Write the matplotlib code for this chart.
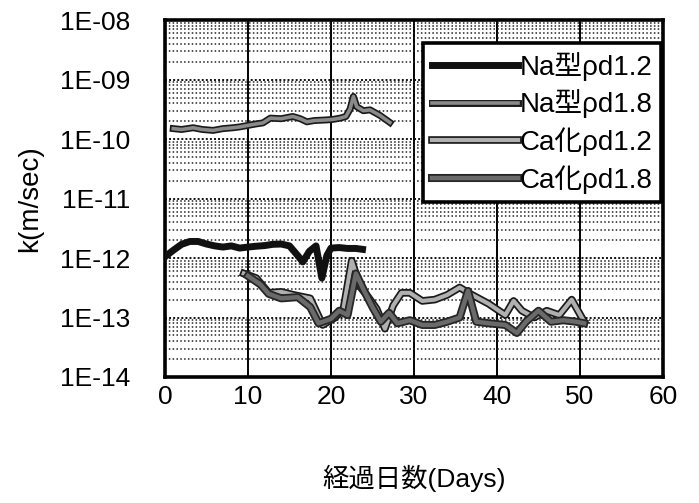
import matplotlib
matplotlib.use("Agg")
import matplotlib.pyplot as plt
import matplotlib.patheffects as pe
from matplotlib.ticker import LogLocator, FixedLocator, FixedFormatter, NullFormatter

plt.rcParams['font.family'] = ['Liberation Sans', 'Noto Sans CJK JP', 'DejaVu Sans']

# Permeability measurements (days, k in m/sec)
na12_days = [0, 1, 2, 3, 4, 5, 6, 7, 8, 9, 10, 11, 12, 13, 14, 15, 16, 16.6,
             17.4, 18.2, 18.9, 19.5, 20, 21, 22, 23, 23.8]
na12_k = [1.05e-12, 1.35e-12, 1.7e-12, 1.9e-12, 1.9e-12, 1.72e-12, 1.6e-12,
          1.53e-12, 1.6e-12, 1.47e-12, 1.53e-12, 1.58e-12, 1.62e-12, 1.7e-12,
          1.72e-12, 1.6e-12, 1.1e-12, 8.6e-13, 1.3e-12, 1.6e-12, 4.6e-13,
          1.1e-12, 1.47e-12, 1.5e-12, 1.45e-12, 1.45e-12, 1.4e-12]

na18_days = [1, 2, 3.4, 4.5, 5.8, 7, 8.2, 9, 10.2, 11, 11.8, 12.7, 14, 15.4,
             16.3, 17.1, 18, 19.5, 20.3, 21.1, 21.8, 22.3, 22.7, 23.1, 23.9,
             24.7, 25.9, 27.1]
na18_k = [1.5e-10, 1.45e-10, 1.55e-10, 1.45e-10, 1.4e-10, 1.5e-10, 1.55e-10,
          1.6e-10, 1.72e-10, 1.8e-10, 1.87e-10, 2.25e-10, 2.2e-10, 2.4e-10,
          2.2e-10, 1.95e-10, 2.05e-10, 2.1e-10, 2.15e-10, 2.25e-10, 2.4e-10,
          3.2e-10, 5.2e-10, 3.5e-10, 3.0e-10, 3.1e-10, 2.5e-10, 1.9e-10]

ca12_days = [9.5, 11, 12.5, 14, 15.5, 17.5, 19, 20.5, 21.5, 22.5, 23.5, 24.5,
             25.5, 26.5, 27.5, 28.5, 29.5, 31, 32.5, 34, 35.5, 37, 39, 41, 42,
             43, 44.5, 46, 47.5, 49, 50.5]
ca12_k = [5.5e-13, 4.6e-13, 2.6e-13, 2.7e-13, 2.4e-13, 2.1e-13, 7.5e-14,
          1.0e-13, 1.4e-13, 9.0e-13, 3.3e-13, 2.2e-13, 1.4e-13, 6.5e-14,
          1.6e-13, 2.6e-13, 2.6e-13, 1.9e-13, 2.0e-13, 2.4e-13, 3.2e-13,
          2.4e-13, 1.7e-13, 1.1e-13, 1.9e-13, 1.3e-13, 1.0e-13, 1.3e-13,
          1.1e-13, 2.0e-13, 8.5e-14]

ca18_days = [10, 11.5, 12.5, 14, 16, 17.5, 18.5, 20, 21, 22, 23, 24, 25, 26,
             27, 28, 29.5, 31, 32.5, 34, 35.5, 36.5, 37.5, 39, 41, 42.4, 43.5,
             45, 46.5, 48, 49.5, 50.5]
ca18_k = [5.0e-13, 3.6e-13, 2.5e-13, 2.1e-13, 2.2e-13, 1.5e-13, 8.0e-14,
          9.5e-14, 1.3e-13, 1.1e-13, 5.5e-13, 2.8e-13, 1.5e-13, 8.5e-14,
          1.2e-13, 8.0e-14, 9.0e-14, 7.5e-14, 7.5e-14, 8.5e-14, 1.0e-13,
          2.8e-13, 8.5e-14, 8.0e-14, 7.5e-14, 5.5e-14, 8.5e-14, 1.3e-13,
          8.5e-14, 9.0e-14, 8.5e-14, 8.0e-14]

labels = ['Na型ρd1.2', 'Na型ρd1.8', 'Ca化ρd1.2', 'Ca化ρd1.8']

x_ticks = [0, 10, 20, 30, 40, 50, 60]
y_ticks = [1e-14, 1e-13, 1e-12, 1e-11, 1e-10, 1e-09, 1e-08]
y_tick_labels = ['1E-14', '1E-13', '1E-12', '1E-11', '1E-10', '1E-09', '1E-08']

fig = plt.figure(figsize=(6.99, 5.03), dpi=100)
ax = fig.add_axes([0.236, 0.2505, 0.7125, 0.7095])
ax.set_yscale('log')
ax.set_xlim(0, 60)
ax.set_ylim(1e-14, 1e-08)

# grid: solid verticals, dotted horizontals at every log step
ax.xaxis.set_major_locator(FixedLocator(x_ticks))
ax.yaxis.set_major_locator(FixedLocator(y_ticks))
ax.yaxis.set_major_formatter(FixedFormatter(y_tick_labels))
ax.yaxis.set_minor_locator(LogLocator(base=10, subs=range(2, 10), numticks=20))
ax.yaxis.set_minor_formatter(NullFormatter())
ax.grid(axis='x', which='major', color='black', linewidth=1.4, linestyle='-')
ax.grid(axis='y', which='major', color='#111111', linewidth=1.4, linestyle=(0, (1, 1.1)))
ax.grid(axis='y', which='minor', color='#222222', linewidth=1.1, linestyle=(0, (1, 1.5)))
ax.set_axisbelow(True)

ax.tick_params(which='both', length=0, labelsize=19, colors='black')
ax.tick_params(axis='y', pad=25)
ax.tick_params(axis='x', pad=6)
for s in ax.spines.values():
    s.set_linewidth(2.6)
    s.set_color('black')

# series
ax.plot(na12_days, na12_k, color='#111111', linewidth=5.0,
        solid_joinstyle='round', label=labels[0], zorder=4)
ax.plot(na18_days, na18_k, color='#8a8a8a', linewidth=2.6,
        path_effects=[pe.Stroke(linewidth=5.0, foreground='#1a1a1a'), pe.Normal()],
        label=labels[1], zorder=4)
ax.plot(ca12_days, ca12_k, color='#b0b0b0', linewidth=3.0,
        path_effects=[pe.Stroke(linewidth=5.5, foreground='#1a1a1a'), pe.Normal()],
        label=labels[2], zorder=3)
ax.plot(ca18_days, ca18_k, color='#6a6a6a', linewidth=3.2,
        path_effects=[pe.Stroke(linewidth=5.8, foreground='#262626'), pe.Normal()],
        label=labels[3], zorder=3)

leg = ax.legend(loc='upper right', bbox_to_anchor=(0.995, 0.935), fontsize=20,
                frameon=True, fancybox=False, edgecolor='black', framealpha=1,
                handlelength=3.1, handletextpad=0.05, borderpad=0.3,
                labelspacing=0.32, borderaxespad=0.0)
leg.get_frame().set_linewidth(2.6)

ax.set_ylabel('k(m/sec)', fontsize=20, labelpad=12)
ax.set_xlabel('経過日数(Days)', fontsize=19, labelpad=40)

fig.savefig('out.png', dpi=100)
